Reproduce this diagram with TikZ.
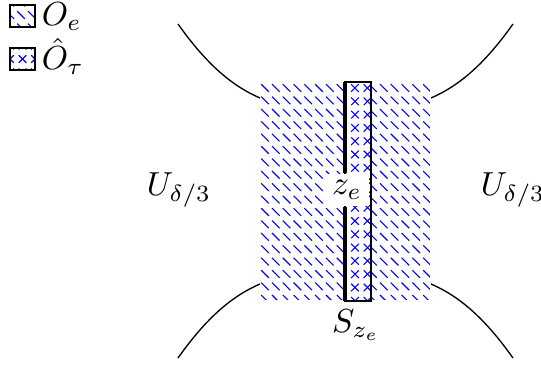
\documentclass[tikz,border=0pt]{standalone}
\begin{document}
\begin{tikzpicture}[x=0.3pt,y=-0.3pt,
  bnd/.style={line width=0.4pt},
  hatch/.style={blue,line width=0.32pt},
  thickbar/.style={line width=1pt},
  lbl/.style={inner sep=1pt}]
\useasboundingbox (0,0) rectangle (541,367);
% boundary curves
\coordinate (tl1) at (178,24); \coordinate (tl2) at (260,98);
\coordinate (tr1) at (513,24); \coordinate (tr2) at (431,98);
\coordinate (bl1) at (178,358); \coordinate (bl2) at (260,284);
\coordinate (br1) at (513,358); \coordinate (br2) at (431,284);
\draw[bnd] (tl1) .. controls (205,62) and (230,85) .. (tl2);
\draw[bnd] (tr1) .. controls (486,62) and (461,85) .. (tr2);
\draw[bnd] (bl1) .. controls (205,320) and (230,297) .. (bl2);
\draw[bnd] (br1) .. controls (486,320) and (461,297) .. (br2);
% O_e region hatching
\begin{scope}
\clip (261,84) rectangle (430,300);
\foreach \i in {-1,...,17}{
  \foreach \j in {0,...,18}{
    \draw[hatch] ({265+10.8*\i-3.8},{88+12.4*\j-3.8}) -- ++(7.6,7.6);
  }
}
\end{scope}
% strip O_tau
\fill[white] (345,82) rectangle (371,301);
\begin{scope}
\clip (345,82) rectangle (371,301);
\foreach \i in {0,1}{
  \foreach \j in {0,...,16}{
    \draw[hatch] ({355+12.5*\i-3.8},{88+13.3*\j-3.8}) -- ++(7.6,7.6);
    \draw[hatch] ({355+12.5*\i-3.8},{88+13.3*\j+3.8}) -- ++(7.6,-7.6);
  }
}
\end{scope}
\draw[bnd] (345,82) rectangle (371,301);
\coordinate (stop) at (345,82);
\coordinate (sbot) at (345,301);
\node[inner sep=2pt,fill=white] (ze) at (347,190) {$z_e$};
\draw[thickbar] (stop) -- (stop |- ze.north);
\draw[thickbar] (sbot) -- (sbot |- ze.south);
% labels
\node[lbl] (ul) at (179,190) {$U_{\delta/3}$};
\node[lbl] (ur) at (513,190) {$U_{\delta/3}$};
\node[lbl] (sz) at (356,325) {$S_{z_e}$};
% legend
\begin{scope}
\clip (10,5) rectangle (35,27);
\foreach \i in {-1,0,1,2}{
  \foreach \j in {-1,0,1,2}{
    \draw[hatch] ({21+10.8*\i-3.8},{15+12.4*\j-3.8}) -- ++(7.6,7.6);
  }
}
\end{scope}
\draw[bnd] (10,5) rectangle (35,27);
\node[lbl,anchor=base west] (oe) at (38,26) {$O_e$};
\begin{scope}
\clip (10,48) rectangle (35,70);
\foreach \i in {-1,0,1}{
  \foreach \j in {-1,0,1}{
    \draw[hatch] ({22.5+12.5*\i-3.8},{59+13.3*\j-3.8}) -- ++(7.6,7.6);
    \draw[hatch] ({22.5+12.5*\i-3.8},{59+13.3*\j+3.8}) -- ++(7.6,-7.6);
  }
}
\end{scope}
\draw[bnd] (10,48) rectangle (35,70);
\node[lbl,anchor=base west] (ot) at (38,70) {$\hat{O}_\tau$};
\end{tikzpicture}
\end{document}
